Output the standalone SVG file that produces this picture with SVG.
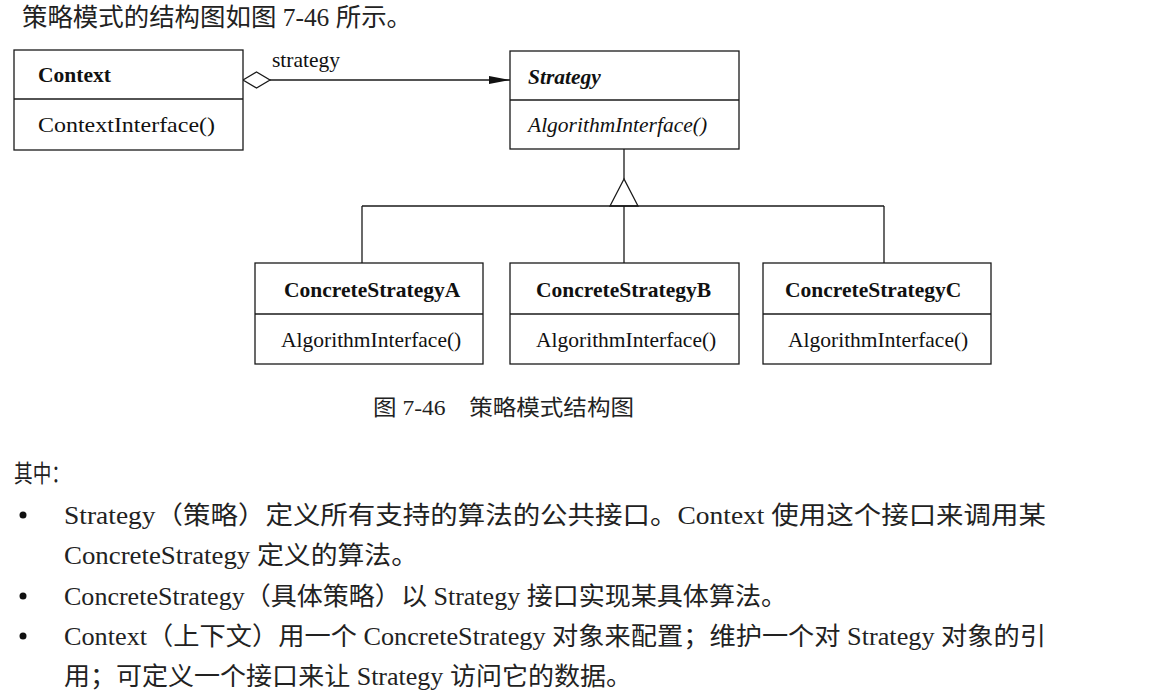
<svg xmlns="http://www.w3.org/2000/svg" width="1160" height="700" viewBox="0 0 1160 700">
<style>
.box{fill:#fff;stroke:#1a1a1a;stroke-width:1.3}
.ln{fill:none;stroke:#1a1a1a;stroke-width:1.3}
.t{font-family:"Liberation Serif","Noto Sans CJK SC",serif;font-size:21.5px;fill:#111}
.b{font-weight:bold}
.i{font-style:italic}
.body{font-family:"Liberation Serif","Noto Sans CJK SC",serif;font-size:25px;fill:#222}
</style>
<defs>
<marker id="arr" markerWidth="22" markerHeight="10" refX="21" refY="5" orient="auto" markerUnits="userSpaceOnUse">
<path d="M0,1 L21,5 L0,9 Z" fill="#111"/>
</marker>
</defs>
<rect width="1160" height="700" fill="#fff"/>
<text class="body" x="22" y="26" textLength="390" lengthAdjust="spacingAndGlyphs">策略模式的结构图如图 7-46 所示。</text>

<g id="connectors">
<path class="ln" d="M243,80 L256.5,72 L270,80 L256.5,88 Z"/>
<line class="ln" x1="270" y1="80" x2="510" y2="80" marker-end="url(#arr)"/>
<text class="t" x="272" y="67">strategy</text>
<line class="ln" x1="624" y1="149" x2="624" y2="179"/>
<path class="ln" d="M624,179 L610,206 L638,206 Z"/>
<line class="ln" x1="362" y1="206" x2="884" y2="206"/>
<line class="ln" x1="362" y1="206" x2="362" y2="263"/>
<line class="ln" x1="624" y1="206" x2="624" y2="263"/>
<line class="ln" x1="884" y1="206" x2="884" y2="263"/>
</g>

<g id="context">
<rect class="box" x="14" y="50" width="229" height="100"/>
<line class="ln" x1="14" y1="99" x2="243" y2="99"/>
<text class="t b" x="38" y="82">Context</text>
<text class="t" x="38" y="132" textLength="177" lengthAdjust="spacingAndGlyphs">ContextInterface()</text>
</g>

<g id="strategy">
<rect class="box" x="510" y="51" width="229" height="98"/>
<line class="ln" x1="510" y1="100" x2="739" y2="100"/>
<text class="t b i" x="528" y="84">Strategy</text>
<text class="t i" x="528" y="132">AlgorithmInterface()</text>
</g>

<g id="concreteA">
<rect class="box" x="255" y="263" width="228" height="101"/>
<line class="ln" x1="255" y1="314" x2="483" y2="314"/>
<text class="t b" x="284" y="297">ConcreteStrategyA</text>
<text class="t" x="281" y="347">AlgorithmInterface()</text>
</g>

<g id="concreteB">
<rect class="box" x="510" y="263" width="229" height="101"/>
<line class="ln" x1="510" y1="314" x2="739" y2="314"/>
<text class="t b" x="536" y="297">ConcreteStrategyB</text>
<text class="t" x="536" y="347">AlgorithmInterface()</text>
</g>

<g id="concreteC">
<rect class="box" x="763" y="263" width="228" height="101"/>
<line class="ln" x1="763" y1="314" x2="991" y2="314"/>
<text class="t b" x="785" y="297">ConcreteStrategyC</text>
<text class="t" x="788" y="347">AlgorithmInterface()</text>
</g>

<text class="body" x="373" y="415" style="font-size:21.5px" textLength="261" lengthAdjust="spacingAndGlyphs">图 7-46　策略模式结构图</text>

<text class="body" x="14" y="482" style="font-size:24px" textLength="56" lengthAdjust="spacingAndGlyphs">其中：</text>
<g fill="#111">
<circle cx="23" cy="515" r="3.5"/>
<circle cx="23" cy="596" r="3.5"/>
<circle cx="23" cy="636" r="3.5"/>
</g>
<text class="body" x="64" y="524" textLength="982" lengthAdjust="spacingAndGlyphs">Strategy（策略）定义所有支持的算法的公共接口。Context 使用这个接口来调用某</text>
<text class="body" x="64" y="564" textLength="354" lengthAdjust="spacingAndGlyphs">ConcreteStrategy 定义的算法。</text>
<text class="body" x="64" y="605" textLength="723" lengthAdjust="spacingAndGlyphs">ConcreteStrategy（具体策略）以 Strategy 接口实现某具体算法。</text>
<text class="body" x="64" y="645" textLength="982" lengthAdjust="spacingAndGlyphs">Context（上下文）用一个 ConcreteStrategy 对象来配置；维护一个对 Strategy 对象的引</text>
<text class="body" x="64" y="685" textLength="568" lengthAdjust="spacingAndGlyphs">用；可定义一个接口来让 Strategy 访问它的数据。</text>
</svg>
